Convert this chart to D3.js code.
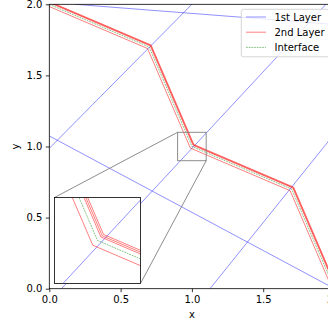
<!DOCTYPE html>
<html>
<head>
<meta charset="utf-8">
<script src="https://cdn.jsdelivr.net/npm/d3@7"></script>
<style>
  html, body { margin: 0; padding: 0; background: #fff; }
  svg { display: block; font-family: "DejaVu Sans", sans-serif; }
</style>
</head>
<body>
<svg id="chart" width="328" height="320"></svg>
<script>
// ---- data -------------------------------------------------------------
// 1st layer: straight ray segments, [x0, y0, x1, y1]
const layer1Segments = [
  [0.18, 2.0, 2.0, 1.858],
  [0.0, 0.987, 1.0, 2.0],
  [0.0, 1.074, 2.0, 0.0],
  [0.085, 0.0, 1.94, 2.0],
  [1.127, 0.0, 2.0, 1.09]
];

// 2nd layer: polylines offset on both sides of the interface
const layer2Lower = [[-0.056, 2.008], [0.689, 1.689], [0.989, 0.989], [1.689, 0.689], [2.008, -0.056]];
const layer2UpperA = [[-0.046, 2.031], [0.708, 1.708], [1.008, 1.008], [1.708, 0.708], [2.031, -0.046]];
const layer2UpperB = [[-0.045, 2.035], [0.711, 1.711], [1.011, 1.011], [1.711, 0.711], [2.035, -0.045]];
const layer2UpperC = [[-0.043, 2.038], [0.714, 1.714], [1.014, 1.014], [1.714, 0.714], [2.038, -0.043]];
const layer2Lines = [layer2Lower, layer2UpperA, layer2UpperB, layer2UpperC];

// interface polyline
const interfaceLine = [[-0.05, 2.021], [0.7, 1.7], [1.0, 1.0], [1.7, 0.7], [2.021, -0.05]];

// ticks and labels
const xTicks = [0.0, 0.5, 1.0, 1.5, 2.0];
const yTicks = [0.0, 0.5, 1.0, 1.5, 2.0];
const xLabel = "x";
const yLabel = "y";

// zoomed window
const zoomX = [0.9, 1.1];
const zoomY = [0.9, 1.1];

const legendItems = [
  { label: "1st Layer", key: "l1" },
  { label: "2nd Layer", key: "l2" },
  { label: "Interface", key: "if" }
];

// ---- styles -----------------------------------------------------------
const styles = {
  l1: { stroke: "#0000ff", opacity: 0.55, width: 0.8, dash: null },
  l2: { stroke: "#ff0000", opacity: 0.6, width: 0.85, dash: null },
  if: { stroke: "#008000", opacity: 0.6, width: 0.8, dash: "1.8,0.9" }
};

// ---- layout -----------------------------------------------------------
const svg = d3.select("#chart");
const x = d3.scaleLinear().domain([0, 2]).range([49.3, 334.5]);
const y = d3.scaleLinear().domain([0, 2]).range([288.7, 4.3]);

const inset = { x0: 54.5, y0: 197.5, size: 86 };
const xi = d3.scaleLinear().domain(zoomX).range([inset.x0, inset.x0 + inset.size]);
const yi = d3.scaleLinear().domain(zoomY).range([inset.y0 + inset.size, inset.y0]);

const defs = svg.append("defs");
defs.append("clipPath").attr("id", "mainClip").append("rect")
  .attr("x", x(0)).attr("y", y(2))
  .attr("width", x(2) - x(0)).attr("height", y(0) - y(2));
defs.append("clipPath").attr("id", "insetClip").append("rect")
  .attr("x", inset.x0).attr("y", inset.y0)
  .attr("width", inset.size).attr("height", inset.size);

function applyStyle(sel, s) {
  sel.attr("fill", "none")
    .attr("stroke", s.stroke)
    .attr("stroke-opacity", s.opacity)
    .attr("stroke-width", s.width);
  if (s.dash) sel.attr("stroke-dasharray", s.dash);
  return sel;
}

function drawLines(g, sx, sy) {
  const line = d3.line().x(d => sx(d[0])).y(d => sy(d[1]));
  layer1Segments.forEach(s => {
    applyStyle(g.append("line")
      .attr("x1", sx(s[0])).attr("y1", sy(s[1]))
      .attr("x2", sx(s[2])).attr("y2", sy(s[3])), styles.l1);
  });
  layer2Lines.forEach(pts => {
    applyStyle(g.append("path").attr("d", line(pts)), styles.l2)
      .attr("stroke-linejoin", "miter");
  });
  applyStyle(g.append("path").attr("d", line(interfaceLine)), styles.if);
}

// ---- main axes content ------------------------------------------------
const main = svg.append("g").attr("clip-path", "url(#mainClip)");
drawLines(main, x, y);

// zoom indicator and connectors
const ind = svg.append("g")
  .attr("fill", "none").attr("stroke", "#808080").attr("stroke-width", 0.9);
ind.append("rect")
  .attr("x", x(zoomX[0])).attr("y", y(zoomY[1]))
  .attr("width", x(zoomX[1]) - x(zoomX[0]))
  .attr("height", y(zoomY[0]) - y(zoomY[1]));
ind.append("line")
  .attr("x1", x(zoomX[0])).attr("y1", y(zoomY[1]))
  .attr("x2", inset.x0).attr("y2", inset.y0);
ind.append("line")
  .attr("x1", x(zoomX[1])).attr("y1", y(zoomY[0]))
  .attr("x2", inset.x0 + inset.size).attr("y2", inset.y0 + inset.size);

// ---- axes -------------------------------------------------------------
const fmt = d3.format(".1f");
const xAxis = svg.append("g")
  .attr("transform", `translate(0,${y(0)})`)
  .call(d3.axisBottom(x).tickValues(xTicks).tickFormat(fmt).tickSize(3.5).tickPadding(3.5));
const yAxis = svg.append("g")
  .attr("transform", `translate(${x(0)},0)`)
  .call(d3.axisLeft(y).tickValues(yTicks).tickFormat(fmt).tickSize(3.5).tickPadding(3.5));
[xAxis, yAxis].forEach(a => {
  a.select(".domain").remove();
  a.selectAll(".tick line").attr("stroke", "#000").attr("stroke-width", 0.8);
  a.selectAll(".tick text")
    .attr("font-family", "DejaVu Sans, sans-serif")
    .attr("font-size", 10).attr("fill", "#000");
});

// spines
const spines = svg.append("g").attr("stroke", "#000").attr("stroke-width", 0.8).attr("fill", "none");
spines.append("rect")
  .attr("x", x(0)).attr("y", y(2))
  .attr("width", x(2) - x(0)).attr("height", y(0) - y(2));

// axis labels
svg.append("text")
  .attr("x", x(1)).attr("y", 318)
  .attr("text-anchor", "middle")
  .attr("font-size", 10)
  .text(xLabel);
svg.append("text")
  .attr("transform", `translate(15,${y(1)}) rotate(-90)`)
  .attr("text-anchor", "middle")
  .attr("dy", "0.35em")
  .attr("font-size", 10)
  .text(yLabel);

// ---- inset ------------------------------------------------------------
svg.append("rect")
  .attr("x", inset.x0).attr("y", inset.y0)
  .attr("width", inset.size).attr("height", inset.size)
  .attr("fill", "#fff");
const insetG = svg.append("g").attr("clip-path", "url(#insetClip)");
drawLines(insetG, xi, yi);
svg.append("rect")
  .attr("x", inset.x0).attr("y", inset.y0)
  .attr("width", inset.size).attr("height", inset.size)
  .attr("fill", "none").attr("stroke", "#000").attr("stroke-width", 0.8);

// ---- legend -----------------------------------------------------------
const lg = svg.append("g");
lg.append("rect")
  .attr("x", 241.3).attr("y", 9.3)
  .attr("width", 87.5).attr("height", 47.5)
  .attr("rx", 2).attr("ry", 2)
  .attr("fill", "#fff").attr("fill-opacity", 0.8)
  .attr("stroke", "#cccccc").attr("stroke-width", 0.8);
const rowY = d => 17 + d * 15.2;
legendItems.forEach((item, i) => {
  applyStyle(lg.append("line")
    .attr("x1", 246).attr("x2", 266)
    .attr("y1", rowY(i)).attr("y2", rowY(i)), styles[item.key]);
  lg.append("text")
    .attr("x", 274.5).attr("y", rowY(i))
    .attr("dy", "0.35em")
    .attr("font-size", 10)
    .attr("fill", "#000")
    .text(item.label);
});
</script>
</body>
</html>
